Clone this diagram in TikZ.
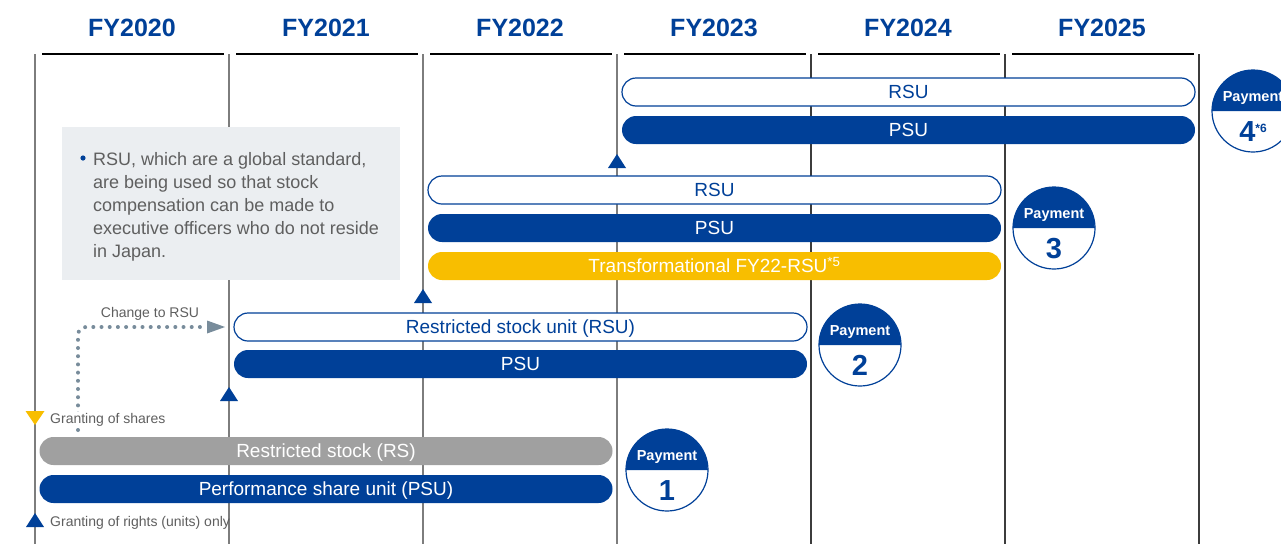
\documentclass[tikz,border=0pt]{standalone}
\usepackage{fontspec}
\setmainfont{Liberation Sans}
\definecolor{cblue}{RGB}{0,64,152}
\definecolor{cyel}{RGB}{248,190,0}
\definecolor{cgraybar}{RGB}{160,160,160}
\definecolor{cbox}{RGB}{235,238,241}
\definecolor{ctext}{RGB}{95,95,95}
\definecolor{cdot}{RGB}{120,140,155}
\definecolor{cline}{RGB}{125,125,125}
\definecolor{clinedark}{RGB}{60,60,60}
\newcommand\mypay[4]{%
  \node[circle, minimum size=82pt, inner sep=0pt, fill=white] (#1) at (#2,#3) {};
  \fill[cblue] (#1.west) arc[start angle=180, end angle=0, radius=41pt] -- cycle;
  \draw[cblue, line width=1.2pt] (#1.center) circle[radius=41pt];
  \node[paytxt] (#1-t) at ([yshift=15pt]#1.center) {Payment};
  \node[paynum] (#1-n) at ([yshift=-20pt]#1.center) {#4};
}
\newcommand\uptri[3]{\fill[#1] (#2,#3) -- ++(-9,-14) -- ++(18,0) -- cycle;}
\begin{document}
\begin{tikzpicture}[x=1pt,y=1pt,
  bar/.style={rounded corners=14pt, minimum width=573pt, minimum height=28pt, inner sep=0pt, text height=13.7pt, text depth=0pt, font=\fontsize{19}{22}\selectfont},
  wbar/.style={bar, draw=cblue, line width=1.2pt, fill=white, text=cblue},
  bbar/.style={bar, fill=cblue, text=white},
  ybar/.style={bar, fill=cyel, text=white},
  gbar/.style={bar, fill=cgraybar, text=white},
  fy/.style={font=\fontsize{25}{28}\selectfont\bfseries, text=cblue, text height=18pt, text depth=0pt},
  vline/.style={line width=1.3pt},
  small/.style={font=\fontsize{14}{16}\selectfont, text=ctext, inner sep=1pt, text height=10pt, text depth=0pt},
  paytxt/.style={font=\fontsize{14.5}{16}\selectfont\bfseries, text=white, inner sep=0pt, text height=10.4pt, text depth=0pt},
  paynum/.style={font=\fontsize{29}{30}\selectfont\bfseries, text=cblue, inner sep=0pt, text height=21pt, text depth=0pt},
  boxtxt/.style={font=\fontsize{18}{23}\selectfont, text=ctext, align=left, inner sep=0pt}
]
\useasboundingbox (0,0) rectangle (1281,-544);
\fill[white] (0,0) rectangle (1281,-544);

% vertical lines
\foreach \x in {35,229,423,617} \draw[vline, cline] (\x,-54) -- (\x,-544);
\foreach \x in {811,1005,1199} \draw[vline, clinedark] (\x,-54) -- (\x,-544);
% top segments
\foreach \x in {35,229,423,617,811,1005} \draw[line width=1.2pt, black] (\x+7,-54) -- (\x+189,-54);

% headings
\node[fy] (fy20) at (132,-27) {FY2020};
\node[fy] (fy21) at (326,-27) {FY2021};
\node[fy] (fy22) at (520,-27) {FY2022};
\node[fy] (fy23) at (714,-27) {FY2023};
\node[fy] (fy24) at (908,-27) {FY2024};
\node[fy] (fy25) at (1102,-27) {FY2025};

% info box
\fill[cbox] (62,-127) rectangle (400,-280);
\fill[cblue] (83,-158) circle[radius=2.6pt];
\node[boxtxt, anchor=base west] (info) at (93,-165) {RSU, which are a global standard,};
\node[boxtxt, anchor=base west] (info2) at (93,-188) {are being used so that stock};
\node[boxtxt, anchor=base west] (info3) at (93,-211) {compensation can be made to};
\node[boxtxt, anchor=base west] (info4) at (93,-234) {executive officers who do not reside};
\node[boxtxt, anchor=base west] (info5) at (93,-257) {in Japan.};

% bars
\node[wbar] (rsuD) at (908.5,-92) {RSU};
\node[bbar] (psuD) at (908.5,-130) {PSU};
\node[wbar] (rsuC) at (714.5,-190) {RSU};
\node[bbar] (psuC) at (714.5,-228) {PSU};
\node[ybar] (trC) at (714.5,-266) {Transformational FY22-RSU\textsuperscript{*5}};
\node[wbar] (rsuB) at (520.5,-327) {Restricted stock unit (RSU)};
\node[bbar] (psuB) at (520.5,-364) {PSU};
\node[gbar] (rsA) at (326,-451) {Restricted stock (RS)};
\node[bbar] (psuA) at (326,-489) {Performance share unit (PSU)};

% triangles
\uptri{cblue}{617}{-154}
\uptri{cblue}{423}{-289}
\uptri{cblue}{229}{-387}
\uptri{cblue}{35}{-513}
\fill[cyel] (25.5,-411) -- (44.5,-411) -- (35,-425) -- cycle;

% dotted change arrow
\coordinate (dstart) at (78,-430);
\coordinate (dcorner) at (78,-327);
\coordinate (dend) at (201,-327);
\draw[cdot, line width=4pt, line cap=round, dash pattern=on 0pt off 8.2pt, rounded corners=8pt] (dstart) -- (dcorner) -- (dend);
\fill[cdot] (207,-320.5) -- (225,-327) -- (207,-333.5) -- cycle;
\node[small] (chg) at (150,-312) {Change to RSU};

% legend labels
\node[small, fill=white, anchor=west] (gshares) at (49,-418) {Granting of shares};
\node[small, anchor=west] (grights) at (49,-521) {Granting of rights (units) only};

% payments
\mypay{pay1}{667}{-470}{1}
\mypay{pay2}{860}{-345}{2}
\mypay{pay3}{1054}{-228}{3}
\mypay{pay4}{1253}{-111}{4\raisebox{9pt}{\fontsize{12}{12}\selectfont *6}}
\end{tikzpicture}
\end{document}
